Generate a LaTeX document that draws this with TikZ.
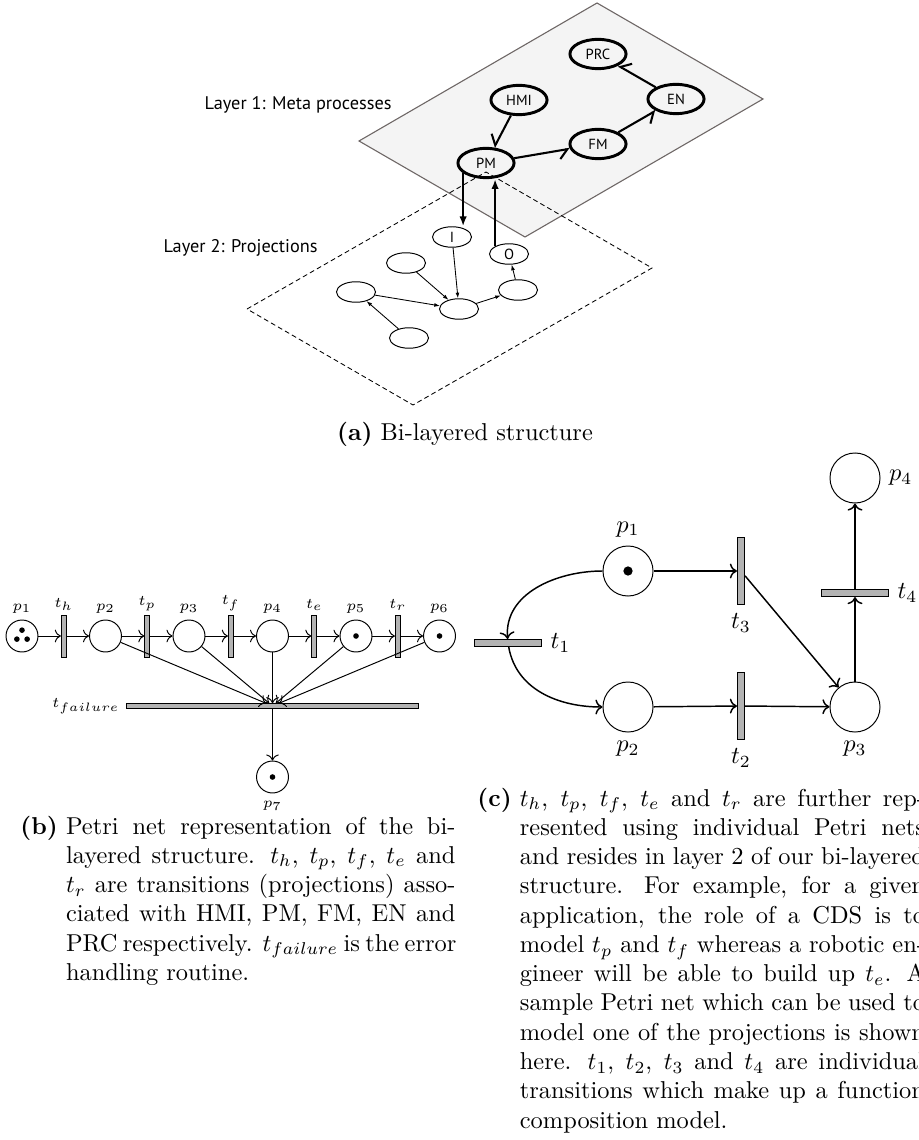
\documentclass[tikz,border=0pt]{standalone}
\usepackage{fontspec}
\newfontfamily\lsans{PT Sans}
\usetikzlibrary{arrows.meta,petri,shapes.geometric}
\definecolor{planefill}{HTML}{F4F4F4}
\definecolor{planeedge}{HTML}{6E6766}
\definecolor{bargray}{HTML}{B3B3B3}
\newlength\capL
\def\capTw{160pt}
\newcommand\capfirst[2]{\noindent\hbox to\capL{#1\hfil}\hbox to \capTw{#2}\par}
\newcommand\capline[1]{\noindent\hbox to\capL{\hfil}\hbox to \capTw{#1}\par}
\newcommand\caplast[1]{\noindent\hbox to\capL{\hfil}\hbox{#1}\par}
\newcommand\capglue{\spaceskip=3.33pt plus 4pt minus 1.11pt\relax\xspaceskip=4.44pt plus 8pt minus 0.37pt\relax}
\tikzset{
  lay1/.style={ellipse, draw=black, line width=1.2pt, minimum width=23pt, minimum height=12pt, inner sep=0pt, font=\lsans\fontsize{6}{7}\selectfont},
  lay2/.style={ellipse, draw=black, line width=0.4pt, minimum width=16pt, minimum height=8.4pt, inner sep=0pt, font=\lsans\fontsize{6}{7}\selectfont},
  laylabel/.style={anchor=east, inner sep=0pt, font=\lsans\fontsize{7.5}{9}\selectfont},
  metaarrow/.style={line width=0.85pt, -{Straight Barb[harpoon,swap,length=3.5pt,width=7pt]}},
  projarrow/.style={line width=0.85pt, -{Latex[length=4pt,width=3pt]}},
  smallarrow/.style={line width=0.35pt, -{Latex[length=2.3pt,width=1.6pt]}},
  bplace/.style={circle, draw=black, line width=0.4pt, minimum size=13.1pt, inner sep=0pt},
  bbar/.style={rectangle, draw=black, fill=bargray, line width=0.35pt, minimum width=2pt, minimum height=17.2pt, inner sep=0pt},
  bfailbar/.style={rectangle, draw=black, fill=bargray, line width=0.35pt, minimum width=119.7pt, minimum height=1.9pt, inner sep=0pt},
  blab/.style={font=\fontsize{6}{7}\selectfont, inner sep=1pt},
  barrow/.style={->, line width=0.4pt},
  cplace/.style={circle, draw=black, line width=0.4pt, minimum size=20.5pt, inner sep=0pt},
  cvbar/.style={rectangle, draw=black, fill=bargray, line width=0.4pt, minimum width=2.9pt, minimum height=27.5pt, inner sep=0pt},
  chbar/.style={rectangle, draw=black, fill=bargray, line width=0.4pt, minimum width=27.5pt, minimum height=2.9pt, inner sep=0pt},
  carrow/.style={->, line width=0.6pt},
  capnode/.style={anchor=base west, inner sep=0pt, text width=200pt}
}
\begin{document}
\begin{tikzpicture}[x=0.4098pt,y=0.4098pt]
\useasboundingbox (0,0) rectangle (918,-1140);

% ---------------- (a) bi-layered structure ----------------
\fill[planefill, draw=planeedge, line width=0.45pt] (359,-141) -- (597,-3) -- (763,-99) -- (525,-237) -- cycle;
\draw[line width=0.35pt, dash pattern=on 2pt off 1.3pt] (247,-309) -- (486,-172) -- (652,-268) -- (413,-405) -- cycle;

\node[laylabel] (lab1) at (392,-105) {Layer 1: Meta processes};
\node[laylabel] (lab2) at (318,-248) {Layer 2: Projections};

\node[lay1] (PRC) at (598,-54) {PRC};
\node[lay1] (HMI) at (519,-100) {HMI};
\node[lay1] (EN) at (676,-99) {EN};
\node[lay1] (FM) at (598,-144) {FM};
\node[lay1] (PM) at (486,-163) {PM};

\node[lay2] (I) at (452,-237) {I};
\node[lay2] (O) at (509,-254) {O};
\node[lay2] (A) at (406,-263) {};
\node[lay2] (B) at (356,-292) {};
\node[lay2] (C) at (459,-309) {};
\node[lay2] (D) at (518,-290) {};
\node[lay2] (E) at (409,-338) {};

\draw[metaarrow] (HMI) -- (PM);
\draw[metaarrow] (PM) -- (FM);
\draw[metaarrow] (FM) -- (EN);
\draw[metaarrow] (EN) -- (PRC);
\draw[projarrow] (PM.204) -- (PM.204 |- I.north);
\draw[projarrow] (O.151) -- (O.151 |- PM.south);

\draw[smallarrow] (A) -- (C);
\draw[smallarrow] (I) -- (C);
\draw[smallarrow] (B) -- (C);
\draw[smallarrow] (C) -- (D);
\draw[smallarrow] (D) -- (O);
\draw[smallarrow] (E) -- (B);

\node[anchor=base, inner sep=0pt] (capa) at (465,-440) {\textbf{(a)} Bi-layered structure};

% ---------------- (b) Petri net ----------------
\begin{scope}[every token/.style={circle, fill=black, draw=none, minimum size=2.3pt, inner sep=0pt}, token distance=4.2pt]
\node[bplace, tokens=3, label={[blab,label distance=1.5pt]above:$p_1$}] (bp1) at (22,-636) {};
\node[bbar, label={[blab,label distance=0.5pt]above:$t_h$}] (bth) at (63.75,-636) {};
\node[bplace, label={[blab,label distance=1.5pt]above:$p_2$}] (bp2) at (105.5,-636) {};
\node[bbar, label={[blab,label distance=0.5pt]above:$t_p$}] (btp) at (147.25,-636) {};
\node[bplace, label={[blab,label distance=1.5pt]above:$p_3$}] (bp3) at (189,-636) {};
\node[bbar, label={[blab,label distance=0.5pt]above:$t_f$}] (btf) at (230.75,-636) {};
\node[bplace, label={[blab,label distance=1.5pt]above:$p_4$}] (bp4) at (272.5,-636) {};
\node[bbar, label={[blab,label distance=0.5pt]above:$t_e$}] (bte) at (314.25,-636) {};
\node[bplace, tokens=1, label={[blab,label distance=1.5pt]above:$p_5$}] (bp5) at (356,-636) {};
\node[bbar, label={[blab,label distance=0.5pt]above:$t_r$}] (btr) at (397.75,-636) {};
\node[bplace, tokens=1, label={[blab,label distance=1.5pt]above:$p_6$}] (bp6) at (439.5,-636) {};
\node[bfailbar, label={[blab,label distance=1.5pt]left:$t_{failure}$}] (bfail) at (272.5,-706) {};
\node[bplace, tokens=1, label={[blab,label distance=2pt]below:$p_7$}] (bp7) at (272.5,-777) {};
\end{scope}

\draw[barrow] (bp1) -- (bth);
\draw[barrow] (bth) -- (bp2);
\draw[barrow] (bp2) -- (btp);
\draw[barrow] (btp) -- (bp3);
\draw[barrow] (bp3) -- (btf);
\draw[barrow] (btf) -- (bp4);
\draw[barrow] (bp4) -- (bte);
\draw[barrow] (bte) -- (bp5);
\draw[barrow] (bp5) -- (btr);
\draw[barrow] (btr) -- (bp6);
\draw[barrow] (bp2) -- (bfail);
\draw[barrow] (bp3) -- (bfail);
\draw[barrow] (bp4) -- (bfail);
\draw[barrow] (bp5) -- (bfail);
\draw[barrow] (bp6) -- (bfail);
\draw[barrow] (bfail) -- (bp7);

% ---------------- (c) Petri net ----------------
\begin{scope}[every token/.style={circle, fill=black, draw=none, minimum size=3.8pt, inner sep=0pt}]
\node[cplace, tokens=1, label=above:$p_1$] (cp1) at (628,-571) {};
\node[cplace, label=below:$p_2$] (cp2) at (628,-707) {};
\node[cplace, label=below:$p_3$] (cp3) at (855,-707) {};
\node[cplace, label=right:$p_4$] (cp4) at (855,-478) {};
\node[cvbar, label=below:$t_3$] (ct3) at (741,-571) {};
\node[cvbar, label=below:$t_2$] (ct2) at (741,-706) {};
\node[chbar, label=right:$t_1$] (ct1) at (508,-643) {};
\node[chbar, label=right:$t_4$] (ct4) at (855,-593) {};
\end{scope}

\draw[carrow] (cp1) -- (ct3);
\draw[carrow] (ct3) -- (cp3);
\draw[carrow] (cp2) -- (ct2);
\draw[carrow] (ct2) -- (cp3);
\draw[carrow] (cp3) -- (ct4);
\draw[carrow] (ct4) -- (cp4);
\draw[carrow] (cp1) to[out=180,in=95] (ct1);
\draw[carrow] (ct1) to[out=-80,in=180] (cp2);

% ---------------- captions ----------------
\node[capnode] (capb) at (20,-834) {%
\capglue\def\capTw{159.6pt}\settowidth\capL{\textbf{(b)}\ }%
\capfirst{\textbf{(b)}}{Petri net representation of the bi-}
\capline{layered structure. $t_h$, $t_p$, $t_f$, $t_e$ and}
\capline{$t_r$ are transitions (projections) asso-}
\capline{ciated with HMI, PM, FM, EN and}
\capline{PRC respectively. $t_{failure}$ is the error}
\caplast{handling routine.}};

\node[capnode] (capc) at (477,-806) {%
\capglue\def\capTw{166pt}\settowidth\capL{\textbf{(c)}\ }%
\capfirst{\textbf{(c)}}{$t_h$, $t_p$, $t_f$, $t_e$ and $t_r$ are further rep-}
\capline{resented using individual Petri nets}
\capline{and resides in layer 2 of our bi-layered}
\capline{structure. For example, for a given}
\capline{application, the role of a CDS is to}
\capline{model $t_p$ and $t_f$ whereas a robotic en-}
\capline{gineer will be able to build up $t_e$. A}
\capline{sample Petri net which can be used to}
\capline{model one of the projections is shown}
\capline{here. $t_1$, $t_2$, $t_3$ and $t_4$ are individual}
\capline{transitions which make up a function}
\caplast{composition model.}};
\end{tikzpicture}
\end{document}
